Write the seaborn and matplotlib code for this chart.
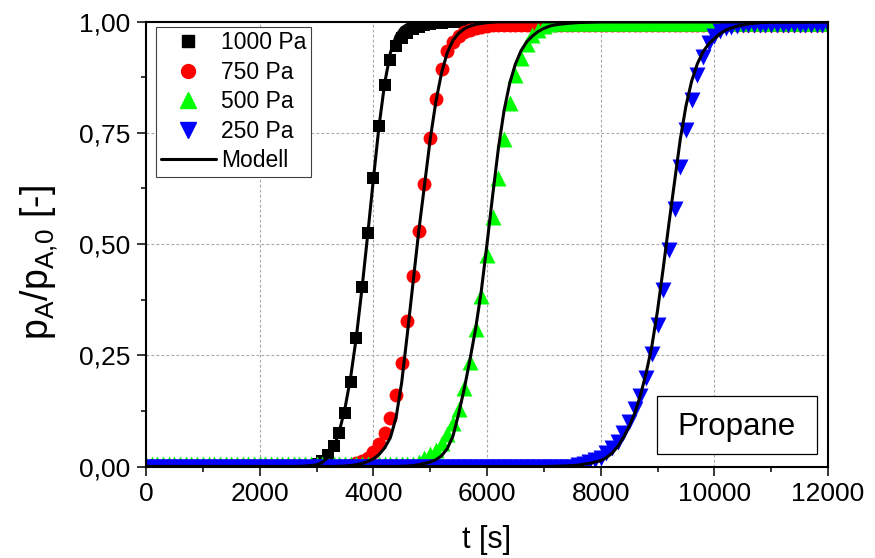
import numpy as np
import matplotlib
matplotlib.use("Agg")
import matplotlib.pyplot as plt
import seaborn as sns
from matplotlib.lines import Line2D
from matplotlib.patches import Rectangle
from matplotlib.ticker import FuncFormatter, MultipleLocator

# measurement times [s], one sample every 100 s
t = np.arange(0, 12001, 100)

# normalised partial pressure p_A/p_A,0 for each feed pressure
p_1000 = [
    0, 0, 0, 0, 0, 0, 0, 0, 0, 0,
    0, 0, 0, 0, 0, 0, 0, 0, 0, 0,
    0, 0, 0, 0, 0, 0, 0, 0, 0, 0,
    0.005, 0.012, 0.025, 0.046, 0.075, 0.120, 0.190, 0.290, 0.404, 0.525,
    0.649, 0.766, 0.858, 0.914, 0.945, 0.963, 0.975, 0.983, 0.988, 0.992,
    0.995, 0.997, 0.998, 0.999, 1, 1, 1, 1, 1, 1,
    1, 1, 1, 1, 1, 1, 1, 1, 1, 1,
    1, 1, 1, 1, 1, 1, 1, 1, 1, 1,
    1, 1, 1, 1, 1, 1, 1, 1, 1, 1,
    1, 1, 1, 1, 1, 1, 1, 1, 1, 1,
    1, 1, 1, 1, 1, 1, 1, 1, 1, 1,
    1, 1, 1, 1, 1, 1, 1, 1, 1, 1,
    1,
]
p_750 = [
    0, 0, 0, 0, 0, 0, 0, 0, 0, 0,
    0, 0, 0, 0, 0, 0, 0, 0, 0, 0,
    0, 0, 0, 0, 0, 0, 0, 0, 0, 0,
    0, 0, 0, 0, 0, 0, 0.003, 0.008, 0.012, 0.020,
    0.033, 0.050, 0.075, 0.110, 0.160, 0.232, 0.327, 0.428, 0.530, 0.635,
    0.738, 0.826, 0.893, 0.934, 0.955, 0.968, 0.977, 0.982, 0.986, 0.989,
    0.991, 0.992, 0.993, 0.993, 0.993, 0.993, 0.993, 0.993, 0.993, 0.993,
    0.993, 0.993, 0.993, 0.993, 0.993, 0.993, 0.993, 0.993, 0.993, 0.993,
    0.993, 0.993, 0.993, 0.993, 0.993, 0.993, 0.993, 0.993, 0.993, 0.993,
    0.993, 0.993, 0.993, 0.993, 0.993, 0.993, 0.993, 0.993, 0.993, 0.993,
    0.993, 0.993, 0.993, 0.993, 0.993, 0.993, 0.993, 0.993, 0.993, 0.993,
    0.993, 0.993, 0.993, 0.993, 0.993, 0.993, 0.993, 0.993, 0.993, 0.993,
    0.993,
]
p_500 = [
    0.006, 0.006, 0.006, 0.006, 0.006, 0.006, 0.006, 0.006, 0.006, 0.006,
    0.006, 0.006, 0.006, 0.006, 0.006, 0.006, 0.006, 0.006, 0.006, 0.006,
    0.006, 0.006, 0.006, 0.006, 0.006, 0.006, 0.006, 0.006, 0.006, 0.006,
    0.006, 0.006, 0.006, 0.006, 0.006, 0.006, 0.006, 0.006, 0.006, 0.006,
    0.006, 0.006, 0.006, 0.006, 0.006, 0.006, 0.006, 0.006, 0.010, 0.018,
    0.028, 0.038, 0.052, 0.072, 0.097, 0.130, 0.176, 0.234, 0.310, 0.384,
    0.475, 0.562, 0.648, 0.736, 0.817, 0.880, 0.918, 0.950, 0.970, 0.982,
    0.990, 0.994, 0.996, 0.998, 0.998, 0.998, 0.998, 0.998, 0.998, 0.998,
    0.998, 0.998, 0.998, 0.998, 0.998, 0.998, 0.998, 0.998, 0.998, 0.998,
    0.998, 0.998, 0.998, 0.998, 0.998, 0.998, 0.998, 0.998, 0.998, 0.998,
    0.998, 0.998, 0.998, 0.998, 0.998, 0.998, 0.998, 0.998, 0.998, 0.998,
    0.998, 0.998, 0.998, 0.998, 0.998, 0.998, 0.998, 0.998, 0.998, 0.998,
    0.998,
]
p_250 = [
    0, 0, 0, 0, 0, 0, 0, 0, 0, 0,
    0, 0, 0, 0, 0, 0, 0, 0, 0, 0,
    0, 0, 0, 0, 0, 0, 0, 0, 0, 0,
    0, 0, 0, 0, 0, 0, 0, 0, 0, 0,
    0, 0, 0, 0, 0, 0, 0, 0, 0, 0,
    0, 0, 0, 0, 0, 0, 0, 0, 0, 0,
    0, 0, 0, 0, 0, 0, 0, 0, 0, 0,
    0, 0, 0, 0, 0, 0, 0.004, 0.006, 0.009, 0.014,
    0.020, 0.030, 0.042, 0.056, 0.075, 0.100, 0.130, 0.158, 0.200, 0.254,
    0.318, 0.397, 0.487, 0.580, 0.674, 0.757, 0.824, 0.880, 0.921, 0.951,
    0.968, 0.978, 0.985, 0.989, 0.991, 0.993, 0.993, 0.993, 0.993, 0.993,
    0.993, 0.993, 0.993, 0.993, 0.993, 0.993, 0.993, 0.993, 0.993, 0.993,
    0.993,
]

# model curves (time [s], p_A/p_A,0)
m1000_t = [0, 2700, 2800, 2900, 3000, 3100, 3200, 3300, 3400, 3500, 3600, 3700,
           3800, 3900, 4000, 4100, 4200, 4300, 4400, 4500, 4600, 4700, 4800, 12000]
m1000_p = [0, 0, 0.001, 0.002, 0.004, 0.009, 0.020, 0.042, 0.078, 0.130, 0.200, 0.290,
           0.400, 0.520, 0.645, 0.765, 0.862, 0.930, 0.968, 0.986, 0.994, 0.998, 1, 1]

m750_t = [0, 3300, 3500, 3600, 3700, 3800, 3900, 4000, 4100, 4200, 4300, 4400, 4500,
          4600, 4700, 4800, 4900, 5000, 5100, 5200, 5300, 5400, 5500, 5600, 5700,
          5800, 6000, 6200, 12000]
m750_p = [0, 0, 0.001, 0.002, 0.004, 0.007, 0.011, 0.017, 0.027, 0.042, 0.065, 0.110,
          0.190, 0.300, 0.415, 0.530, 0.632, 0.735, 0.820, 0.885, 0.930, 0.958, 0.974,
          0.984, 0.990, 0.994, 0.998, 1, 1]

m500_t = [0, 4400, 4600, 4700, 4800, 4900, 5000, 5100, 5200, 5300, 5400, 5500, 5600,
          5700, 5800, 5900, 6000, 6100, 6200, 6300, 6400, 6500, 6600, 6700, 6800,
          6900, 7000, 7100, 7200, 7400, 7600, 8000, 12000]
m500_p = [0, 0, 0.001, 0.002, 0.004, 0.007, 0.010, 0.015, 0.024, 0.040, 0.068, 0.118,
          0.175, 0.240, 0.310, 0.395, 0.500, 0.610, 0.715, 0.800, 0.862, 0.905, 0.935,
          0.955, 0.968, 0.978, 0.985, 0.990, 0.993, 0.996, 0.998, 1, 1]

m250_t = [0, 7000, 7300, 7500, 7600, 7700, 7800, 7900, 8000, 8100, 8200, 8300, 8400,
          8500, 8600, 8700, 8800, 8900, 9000, 9100, 9200, 9300, 9400, 9500, 9600,
          9700, 9800, 9900, 10000, 10100, 10200, 10300, 10400, 10600, 10800, 11000,
          12000]
m250_p = [0, 0, 0.001, 0.002, 0.003, 0.005, 0.007, 0.010, 0.013, 0.020, 0.030, 0.045,
          0.065, 0.090, 0.120, 0.160, 0.210, 0.270, 0.350, 0.445, 0.545, 0.640, 0.735,
          0.810, 0.866, 0.905, 0.932, 0.950, 0.962, 0.973, 0.981, 0.986, 0.990,
          0.995, 0.998, 0.999, 1]

labels = ["1000 Pa", "750 Pa", "500 Pa", "250 Pa"]
colors = ["#000000", "#ff0000", "#00ff00", "#0000ff"]
markers = ["s", "o", "^", "v"]
sizes = [8.6, 10.0, 11.5, 11.5]

sns.set_style("white")
plt.rcParams["font.family"] = ["Liberation Sans", "DejaVu Sans"]
plt.rcParams["text.color"] = "black"
plt.rcParams["axes.labelcolor"] = "black"
plt.rcParams["xtick.color"] = "black"
plt.rcParams["ytick.color"] = "black"
plt.rcParams["mathtext.fontset"] = "custom"
plt.rcParams["mathtext.rm"] = "Liberation Sans"
plt.rcParams["mathtext.it"] = "Liberation Sans"
plt.rcParams["mathtext.default"] = "regular"

fig = plt.figure(figsize=(8.75, 5.58), dpi=100)
ax = fig.add_axes([146 / 875, 91.5 / 558, 682 / 875, 444.8 / 558])

series = [p_1000, p_750, p_500, p_250]
for vals, c, m, ms in zip(series, colors, markers, sizes):
    sns.scatterplot(x=t, y=vals, ax=ax, color=c, marker=m, s=ms ** 2,
                    linewidth=0, legend=False, zorder=3)

for mt, mp in [(m1000_t, m1000_p), (m750_t, m750_p), (m500_t, m500_p), (m250_t, m250_p)]:
    sns.lineplot(x=mt, y=mp, ax=ax, color="black", lw=2.2, sort=False,
                 estimator=None, legend=False, zorder=4)

ax.set_xlim(0, 12000)
ax.set_ylim(0, 1)
ax.xaxis.set_major_locator(MultipleLocator(2000))
ax.xaxis.set_minor_locator(MultipleLocator(1000))
ax.yaxis.set_major_locator(MultipleLocator(0.25))
ax.yaxis.set_minor_locator(MultipleLocator(0.125))
ax.yaxis.set_major_formatter(FuncFormatter(lambda v, pos: f"{v:.2f}".replace(".", ",")))

ax.grid(True, which="major", color="#a8a8a8", linestyle=(0, (2.5, 2)), lw=0.8)
ax.set_axisbelow(True)
for s in ax.spines.values():
    s.set_visible(True)
    s.set_color("black")
    s.set_linewidth(1.5)
    s.set_zorder(5)

ax.tick_params(which="major", direction="out", length=6.5, width=1.1,
               labelsize=19, color="black", labelcolor="black", pad=5,
               bottom=True, left=True)
ax.tick_params(which="minor", direction="out", length=3.6, width=1.1,
               color="black", bottom=True, left=True)

ax.set_xlabel("t [s]", fontsize=22, labelpad=13)
ax.set_ylabel(r"$p_A/p_{A\text{,}0}$ [-]", fontsize=27)
ax.yaxis.set_label_coords(-0.126, 0.459)

# sample label box
ax.add_patch(Rectangle((0.7488, 0.0281), 0.2355, 0.1304, transform=ax.transAxes,
                       facecolor="white", edgecolor="black", lw=0.9, zorder=6))
ax.text(0.8656, 0.088, "Propane", transform=ax.transAxes, fontsize=22.5,
        ha="center", va="center", zorder=7)

handles = [Line2D([], [], color=c, marker=m, markersize=ms, linestyle="none")
           for c, m, ms in zip(colors, markers, sizes)]
handles.append(Line2D([], [], color="black", lw=2.2))
leg = ax.legend(handles, labels + ["Modell"], loc="upper left",
                bbox_to_anchor=(156 / 875, 1 - 26.7 / 558), bbox_transform=fig.transFigure,
                fontsize=16.5, frameon=True, fancybox=False, framealpha=1,
                edgecolor="#404040", borderaxespad=0, borderpad=0.2,
                handlelength=2.4, handletextpad=0.25, labelspacing=0.28)
leg.get_frame().set_linewidth(0.8)
leg.set_zorder(8)

fig.savefig("out.png", dpi=100)
